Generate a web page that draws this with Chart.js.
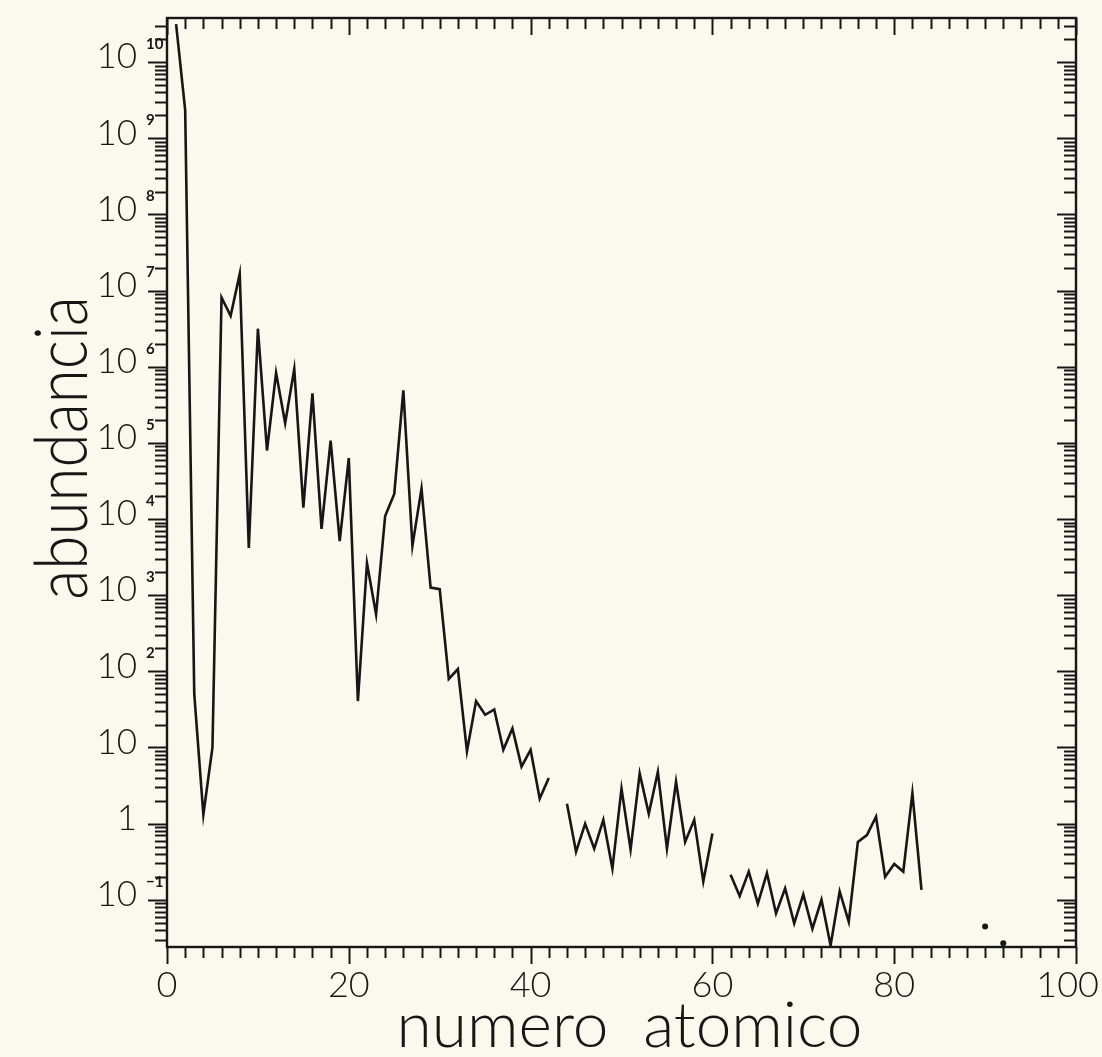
<!DOCTYPE html>
<html>
<head>
<meta charset="utf-8">
<script src="https://cdn.jsdelivr.net/npm/chart.js@4.4.1/dist/chart.umd.min.js"></script>
<style>
  html, body { margin: 0; padding: 0; background: #fbf9ee; }
  #wrap { width: 1102px; height: 1057px; }
</style>
</head>
<body>
<div id="wrap"><canvas id="abund" width="1102" height="1057"></canvas></div>
<script>
// atomic number of each plotted element (43 Tc and 61 Pm are gaps in the curve)
const atomicNumbers = [
  1, 2, 3, 4, 5, 6, 7, 8, 9, 10,
  11, 12, 13, 14, 15, 16, 17, 18, 19, 20,
  21, 22, 23, 24, 25, 26, 27, 28, 29, 30,
  31, 32, 33, 34, 35, 36, 37, 38, 39, 40,
  41, 42, 43, 44, 45, 46, 47, 48, 49, 50,
  51, 52, 53, 54, 55, 56, 57, 58, 59, 60,
  61, 62, 63, 64, 65, 66, 67, 68, 69, 70,
  71, 72, 73, 74, 75, 76, 77, 78, 79, 80,
  81, 82, 83
];
// log10 of the abundance
const logAbundance = [
  10.50, 9.37, 1.70, 0.12, 1.00, 6.91, 6.67, 7.22, 3.62, 6.50,
  4.90, 5.92, 5.26, 5.97, 4.15, 5.65, 3.87, 5.03, 3.71, 4.80,
  1.61, 3.42, 2.75, 4.04, 4.33, 5.69, 3.65, 4.40, 3.10, 3.08,
  1.90, 2.03, 0.95, 1.61, 1.43, 1.50, 0.97, 1.25, 0.75, 0.97,
  0.33, 0.60, null, 0.26, -0.37, 0.00, -0.33, 0.05, -0.59, 0.46,
  -0.34, 0.66, 0.13, 0.68, -0.33, 0.55, -0.24, 0.05, -0.76, -0.13,
  null, -0.67, -0.95, -0.63, -1.05, -0.65, -1.18, -0.85, -1.31, -0.93,
  -1.38, -1.00, -1.60, -0.89, -1.29, -0.24, -0.15, 0.09, -0.70, -0.53,
  -0.63, 0.40, -0.87
];
// Th and U, drawn as lone dots
const dotNumbers = [90, 92];
const dotLogAbundance = [-1.35, -1.57];

const xTickLabels = [0, 20, 40, 60, 80, 100];
const yDecades = [10, 9, 8, 7, 6, 5, 4, 3, 2, 1, 0, -1];

const INK = '#161616';
const FONT = 'Lato, "Open Sans", sans-serif';

const curve = atomicNumbers.map((z, i) => ({
  x: z,
  y: logAbundance[i] === null ? null : Math.pow(10, logAbundance[i])
}));
const dots = dotNumbers.map((z, i) => ({ x: z, y: Math.pow(10, dotLogAbundance[i]) }));

// frame, tick marks and labels, all placed with the chart's scales
const axesPlugin = {
  id: 'axesPlugin',
  afterDraw(chart) {
    const { ctx, chartArea: a, scales: { x, y } } = chart;
    ctx.save();
    ctx.strokeStyle = INK;
    ctx.lineCap = 'butt';

    function seg(x1, y1, x2, y2, w) {
      ctx.lineWidth = w;
      ctx.beginPath();
      ctx.moveTo(x1, y1);
      ctx.lineTo(x2, y2);
      ctx.stroke();
    }

    // frame
    ctx.lineWidth = 2.4;
    ctx.strokeRect(a.left, a.top, a.right - a.left, a.bottom - a.top);

    // x ticks: every 2, longer every 20 (bottom hang outside, top hang inside)
    for (let v = 0; v <= 100; v += 2) {
      const px = Math.round(x.getPixelForValue(v)) + 0.5;
      const len = v % 20 === 0 ? 17 : 11;
      seg(px, a.bottom, px, a.bottom + len, 2);
      seg(px, a.top, px, a.top + len, 2);
    }

    // y ticks on the log scale: all pointing to the left
    for (let e = -2; e <= 10; e++) {
      for (let m = 1; m <= 9; m++) {
        const val = m * Math.pow(10, e);
        if (val < y.min || val > y.max) continue;
        const py = Math.round(y.getPixelForValue(val)) + 0.5;
        const len = m === 1 ? 19 : 12;
        seg(a.left - len, py, a.left, py, 2);
        seg(a.right - len, py, a.right, py, 2);
      }
    }

    ctx.fillStyle = INK;

    // x tick labels (the last one kept inside the canvas)
    ctx.font = '300 36px ' + FONT;
    ctx.textAlign = 'center';
    ctx.textBaseline = 'middle';
    xTickLabels.forEach(v => {
      const w = ctx.measureText(String(v)).width;
      const cx = Math.min(x.getPixelForValue(v), chart.width - w / 2 - 3);
      ctx.fillText(String(v), cx, a.bottom + 38);
    });

    // y decade labels: "10" with a small raised exponent
    yDecades.forEach(e => {
      const py = y.getPixelForValue(Math.pow(10, e)) - 5;
      const baseRight = a.left - 30;
      ctx.textAlign = 'right';
      ctx.textBaseline = 'middle';
      ctx.font = '300 35px ' + FONT;
      const base = e === 0 ? '1' : '10';
      ctx.fillText(base, baseRight, py);
      if (e !== 0 && e !== 1) {
        ctx.textAlign = 'left';
        ctx.font = 'bold 15px ' + FONT;
        ctx.fillText(e < 0 ? '\u2212' + (-e) : String(e), baseRight + 9, py - 13);
      }
    });

    // axis titles
    ctx.font = '300 64px ' + FONT;
    ctx.textAlign = 'center';
    ctx.textBaseline = 'alphabetic';
    ctx.fillText('numero  atomico', (a.left + a.right) / 2 + 8, a.bottom + 100);

    ctx.textBaseline = 'middle';
    ctx.font = '300 72px ' + FONT;
    ctx.translate(64, 448);
    ctx.rotate(-Math.PI / 2);
    ctx.scale(0.86, 1);
    ctx.fillText('abundancia', 0, 0);
    ctx.restore();
  }
};

new Chart(document.getElementById('abund'), {
  type: 'line',
  data: {
    datasets: [
      {
        label: 'abundancia',
        data: curve,
        borderColor: INK,
        borderWidth: 2.6,
        pointRadius: 0,
        tension: 0,
        spanGaps: false,
        borderJoinStyle: 'miter'
      },
      {
        label: 'Th, U',
        data: dots,
        showLine: false,
        pointRadius: 3,
        pointBackgroundColor: INK,
        pointBorderWidth: 0
      }
    ]
  },
  options: {
    responsive: false,
    animation: false,
    layout: { padding: { left: 167, right: 26, top: 18, bottom: 110 } },
    scales: {
      x: { type: 'linear', min: 0, max: 100, display: false },
      y: { type: 'logarithmic', min: Math.pow(10, -1.62), max: Math.pow(10, 10.58), display: false }
    },
    plugins: {
      legend: { display: false },
      tooltip: { enabled: false }
    }
  },
  plugins: [axesPlugin]
});
</script>
</body>
</html>
